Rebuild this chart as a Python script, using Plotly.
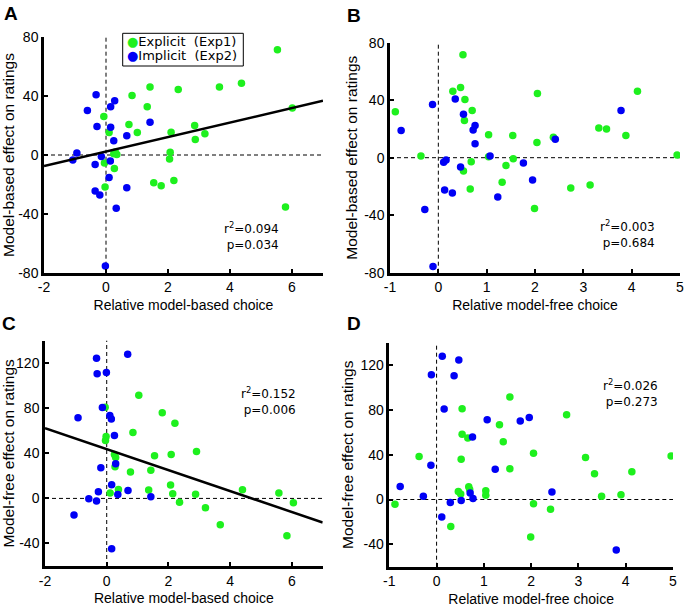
import numpy as np
import plotly.graph_objects as go

W, H = 685, 608

# ---------------- data ----------------
# Panel A: relative model-based choice (x) vs model-based effect on ratings (y)
a_exp_x = [5.53, 6.01, 4.37, 3.66, 2.33, 1.42, 0.84, 1.33, -0.07, 0.74, 1.01, 0.10, 2.86, 3.19,
           2.88, 2.10, 2.07, 2.05, 0.25, 0.35, -0.05, 0.27, -0.03, 1.54, 1.78, 2.19, 5.79, 0.30]
a_exp_y = [71.5, 31.9, 48.8, 46.3, 44.5, 46.3, 40.4, 32.8, 26.1, 20.7, 15.3, 15.3, 20.0, 14.4,
           10.6, 15.5, 1.8, -2.7, 0.9, 0.4, -5.4, -9.2, -21.8, -18.9, -20.9, -17.3, -35.3, 2.0]
a_imp_x = [-0.32, -0.60, 0.28, 0.15, -0.29, 0.15, 1.42, 0.67, 0.25, -0.94, -1.07, -0.15, 0.14,
           -0.35, 0.10, 0.67, -0.35, -0.20, 0.33, -0.02]
a_imp_y = [40.9, 30.3, 36.9, 32.8, 19.3, 18.9, 22.2, 13.0, 9.7, 1.3, -3.4, -1.1, -4.0,
           -6.5, -15.3, -22.2, -24.5, -27.2, -36.2, -75.5]

# Panel B: relative model-free choice (x) vs model-based effect on ratings (y)
b_exp_x = [0.51, 0.30, 0.46, 0.55, -0.89, 0.70, 0.54, 2.05, 4.12, 3.32, 3.48, 3.88, 2.38, 2.04,
           1.04, 1.54, 4.94, -0.36, 1.04, 1.55, 1.40, 0.68, 0.52, 1.32, 0.66, 2.74, 3.14, 1.99]
b_exp_y = [71.7, 46.2, 48.8, 40.5, 31.9, 32.8, 25.9, 44.6, 46.2, 20.6, 19.9, 15.5, 14.3, 10.6,
           16.0, 15.5, 1.8, 1.2, 0.7, -0.7, -5.5, -2.8, -9.2, -17.1, -21.7, -21.0, -19.0, -35.4]
b_imp_x = [-0.12, -0.77, 0.35, 0.52, 0.76, 0.72, 0.76, 1.07, 0.16, 0.11, 0.46, 1.76, 1.95, 2.42,
           3.78, 0.13, 0.29, 1.23, -0.28, -0.11]
b_imp_y = [37.0, 19.0, 40.9, 30.3, 22.4, 19.2, 9.7, 1.2, -1.6, -3.2, -6.5, -3.7, -15.5, 12.9,
           32.8, -22.4, -24.5, -27.3, -36.1, -75.6]

# Panel C: relative model-based choice (x) vs model-free effect on ratings (y)
c_exp_x = [1.04, -0.05, 1.80, 2.21, 0.85, -0.02, -0.04, 2.91, 2.09, 1.55, 0.25, 0.29, 0.27, 1.43,
           0.77, 2.07, 0.38, 1.36, 0.11, 2.14, 2.88, 4.40, 5.58, 2.36, 6.05, 3.20, 3.68, 5.84]
c_exp_y = [91.6, 81.0, 76.0, 66.8, 58.5, 55.0, 51.4, 41.7, 39.0, 37.8, 39.0, 36.4, 28.1, 25.1,
           23.4, 11.8, 8.0, 7.4, 4.7, 4.1, 3.8, 7.7, 4.7, -3.5, -3.8, -8.3, -23.4, -33.1]
c_imp_x = [0.68, -0.33, -0.31, -0.01, -0.14, 0.10, 0.15, -0.93, 0.25, 0.29, -0.19, 0.16, -0.27,
           0.69, 0.36, -0.58, -0.33, 1.43, -1.06, 0.16]
c_imp_y = [128.0, 124.4, 110.6, 111.7, 80.7, 73.6, 70.4, 71.5, 55.9, 30.7, 27.2, 12.1, 5.9,
           7.1, 3.5, -0.3, -2.4, 1.5, -14.8, -44.6]

# Panel D: relative model-free choice (x) vs model-free effect on ratings (y)
d_exp_x = [1.55, 0.54, 2.75, 1.33, 0.54, 0.66, 1.41, 2.05, -0.37, 0.52, 3.15, 4.96, 1.55, 3.34,
           4.13, 0.68, 0.46, 0.51, 1.04, 1.04, 3.49, 3.90, -0.88, 2.05, 2.41, 0.30, 1.99, 0.70]
d_exp_y = [91.6, 81.1, 75.7, 66.7, 58.3, 54.8, 51.5, 41.3, 38.3, 35.9, 37.4, 38.9, 27.5, 23.0,
           24.8, 11.4, 7.2, 4.8, 7.8, 3.9, 3.0, 4.2, -4.2, -3.9, -8.7, -24.2, -33.5, 9.0]
d_imp_x = [0.12, 0.47, -0.11, 0.37, 0.16, 1.07, 1.77, 1.96, 0.76, -0.12, 1.24, -0.77, -0.28,
           2.44, 0.71, 0.77, 0.52, 0.29, 0.11, 3.80]
d_imp_y = [127.8, 124.5, 111.3, 110.4, 80.8, 71.2, 70.0, 73.3, 55.7, 30.5, 26.9, 11.7, 3.0,
           6.6, 5.7, 0.9, -0.9, -2.7, -15.6, -45.2]

# Statistics printed in each panel
stats_r2 = ["0.094", "0.003", "0.152", "0.026"]
stats_p = ["0.034", "0.684", "0.006", "0.273"]
panel_letters = ["A", "B", "C", "D"]
legend_names = ["Explicit\u00a0 (Exp1)", "Implicit\u00a0 (Exp2)"]

# Axis ticks
mb_choice_ticks = [-2, 0, 2, 4, 6]
mf_choice_ticks = [-1, 0, 1, 2, 3, 4, 5]
mb_rating_ticks = [-80, -40, 0, 40, 80]
mf_rating_ticks = [-40, 0, 40, 80, 120]
x_title_mb = "Relative model-based choice"
x_title_mf = "Relative model-free choice"
y_title_mb = "Model-based effect on ratings"
y_title_mf = "Model-free effect on ratings"

GREEN = "#1ef01e"
BLUE = "#0000f5"
TICKFONT = "Liberation Sans, Arial, sans-serif"
STATFONT = "DejaVu Sans, Verdana, sans-serif"


def px_x(p):
    return p / W


def px_y(p):
    return 1 - p / H


def lbl(v):
    return str(v)  # plain hyphen minus as in the reference


panels = [
    dict(ex=a_exp_x, ey=a_exp_y, ix=a_imp_x, iy=a_imp_y, xr=[-2, 7], yr=[-80, 80],
         xt=mb_choice_ticks, yt=mb_rating_ticks, xtitle=x_title_mb, ytitle=y_title_mb,
         dom_x=[44, 323], dom_y=[37.3, 272.7], fit=True,
         stat_xy=(281, 236.5), letter_xy=(11, 13)),
    dict(ex=b_exp_x, ey=b_exp_y, ix=b_imp_x, iy=b_imp_y, xr=[-1, 5], yr=[-80, 80],
         xt=mf_choice_ticks, yt=mb_rating_ticks, xtitle=x_title_mf, ytitle=y_title_mb,
         dom_x=[390, 680], dom_y=[42.7, 272.7], fit=False,
         stat_xy=(657, 234), letter_xy=(354, 16)),
    dict(ex=c_exp_x, ey=c_exp_y, ix=c_imp_x, iy=c_imp_y, xr=[-2, 7], yr=[-60, 140],
         xt=mb_choice_ticks, yt=mf_rating_ticks, xtitle=x_title_mb, ytitle=y_title_mf,
         dom_x=[45, 322.7], dom_y=[340.7, 566], fit=True,
         stat_xy=(298, 400.5), letter_xy=(9, 323)),
    dict(ex=d_exp_x, ey=d_exp_y, ix=d_imp_x, iy=d_imp_y, xr=[-1, 5], yr=[-60, 140],
         xt=mf_choice_ticks, yt=mf_rating_ticks, xtitle=x_title_mf, ytitle=y_title_mf,
         dom_x=[389.3, 673], dom_y=[342.7, 566.7], fit=False,
         stat_xy=(660, 393), letter_xy=(354, 323)),
]

fig = go.Figure()
annotations = []
shapes = []

for i, P in enumerate(panels):
    n = "" if i == 0 else str(i + 1)
    xa, ya = "x" + n, "y" + n
    # reference lines at 0
    shapes.append(dict(type="line", xref=xa, yref=ya + " domain", x0=0, x1=0, y0=0, y1=1,
                       line=dict(color="black", width=1, dash="4px,3px"), layer="below"))
    shapes.append(dict(type="line", xref=xa + " domain", yref=ya, x0=0, x1=1, y0=0, y1=0,
                       line=dict(color="black", width=1, dash="4px,3px"), layer="below"))
    fig.add_trace(go.Scatter(x=P["ex"], y=P["ey"], mode="markers", xaxis=xa, yaxis=ya,
                             marker=dict(color=GREEN, size=7.5, line=dict(width=0)),
                             name=legend_names[0], showlegend=False))
    fig.add_trace(go.Scatter(x=P["ix"], y=P["iy"], mode="markers", xaxis=xa, yaxis=ya,
                             marker=dict(color=BLUE, size=7.5, line=dict(width=0)),
                             name=legend_names[1], showlegend=False))
    if P["fit"]:
        allx = np.array(P["ex"] + P["ix"])
        ally = np.array(P["ey"] + P["iy"])
        slope, icpt = np.polyfit(allx, ally, 1)
        lx = np.array(P["xr"], dtype=float)
        fig.add_trace(go.Scatter(x=lx, y=icpt + slope * lx, mode="lines", xaxis=xa, yaxis=ya,
                                 line=dict(color="black", width=2.5), showlegend=False,
                                 hoverinfo="skip"))
    axis_common = dict(showgrid=False, zeroline=False, showline=True, linecolor="black",
                       linewidth=2.5, ticks="inside", ticklen=4, tickwidth=2, tickcolor="black",
                       tickfont=dict(family=TICKFONT, size=14, color="black"), mirror=False,
                       automargin=False)
    fig.update_layout(**{
        ("xaxis" + n): dict(axis_common, range=P["xr"], anchor=ya,
                            domain=[px_x(P["dom_x"][0]), px_x(P["dom_x"][1])],
                            tickmode="array", tickvals=P["xt"],
                            ticktext=[lbl(v) for v in P["xt"]],
                            title=dict(text=P["xtitle"], standoff=6,
                                       font=dict(family=TICKFONT, size=14, color="black"))),
        ("yaxis" + n): dict(axis_common, range=P["yr"], anchor=xa,
                            domain=[px_y(P["dom_y"][1]), px_y(P["dom_y"][0])],
                            tickmode="array", tickvals=P["yt"],
                            ticktext=[lbl(v) for v in P["yt"]],
                            title=dict(text=P["ytitle"], standoff=3,
                                       font=dict(family=TICKFONT, size=15.5, color="black"))),
    })
    sx, sy = P["stat_xy"]
    annotations.append(dict(xref="paper", yref="paper", x=px_x(sx), y=px_y(sy),
                            xanchor="right", yanchor="middle", showarrow=False, align="right",
                            text="r<sup>2</sup>=" + stats_r2[i] + "<br>p=" + stats_p[i],
                            font=dict(family=STATFONT, size=12, color="black")))
    lx_, ly_ = P["letter_xy"]
    annotations.append(dict(xref="paper", yref="paper", x=px_x(lx_), y=px_y(ly_),
                            xanchor="center", yanchor="middle", showarrow=False,
                            text="<b>" + panel_letters[i] + "</b>",
                            font=dict(family="Liberation Sans, Arial, sans-serif", size=19,
                                      color="black")))

# legend box in panel A
shapes.append(dict(type="rect", xref="paper", yref="paper", x0=px_x(122.7), x1=px_x(243.3),
                   y0=px_y(66), y1=px_y(33.3), line=dict(color="black", width=1),
                   fillcolor="white", layer="above"))
for k, (col, name) in enumerate(zip([GREEN, BLUE], legend_names)):
    annotations.append(dict(xref="paper", yref="paper", x=px_x(124.5), y=px_y(42 + 13.3 * k),
                            xanchor="left", yanchor="middle", showarrow=False,
                            text='<span style="color:%s">\u25cf</span>%s' % (col, name),
                            font=dict(family=STATFONT, size=13, color="black")))

fig.update_layout(width=W, height=H, margin=dict(l=0, r=0, t=0, b=0),
                  paper_bgcolor="white", plot_bgcolor="white", showlegend=False,
                  shapes=shapes, annotations=annotations)

# remove the browser's default 8px page margin so the figure fills the window exactly
fig.write_html("out.html", config={"displayModeBar": False},
               post_script="document.body.style.margin='0';document.body.style.padding='0';"
                           "document.body.style.overflow='hidden';")
